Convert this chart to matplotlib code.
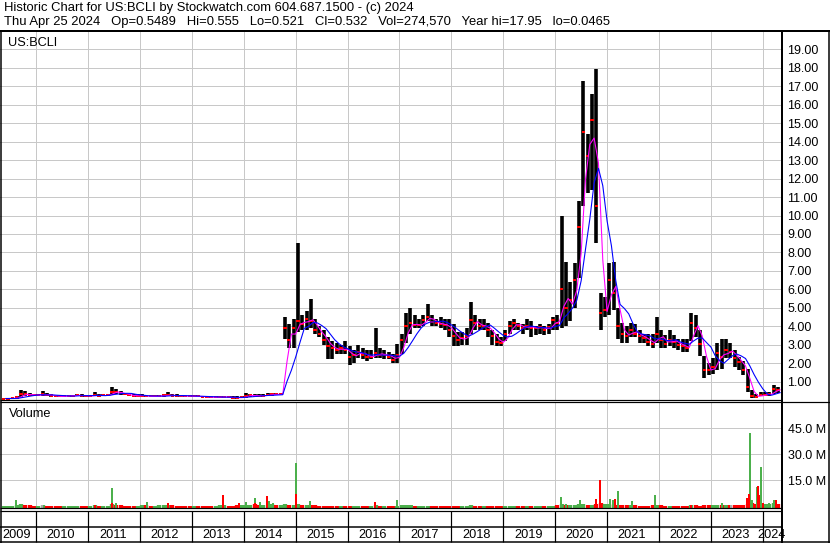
import numpy as np
import pandas as pd
import matplotlib
matplotlib.use("Agg")
import matplotlib.pyplot as plt
from matplotlib.lines import Line2D

plt.rcParams['font.family'] = ['Liberation Sans', 'DejaVu Sans']

# ---------------- data (monthly, May 2009 .. Apr 2024) ----------------
first_month = '2009-05'
last_month = '2024-04'

high = [
    # 2009 May-Dec
    0.10, 0.10, 0.11, 0.20, 0.55, 0.50, 0.38, 0.33,
    # 2010
    0.33, 0.50, 0.36, 0.30, 0.25, 0.24, 0.26, 0.27, 0.28, 0.35, 0.30, 0.27,
    # 2011
    0.28, 0.45, 0.30, 0.30, 0.35, 0.68, 0.60, 0.48, 0.40, 0.34, 0.30, 0.30,
    # 2012
    0.30, 0.28, 0.27, 0.26, 0.28, 0.35, 0.42, 0.32, 0.30, 0.28, 0.27, 0.26,
    # 2013
    0.26, 0.25, 0.24, 0.23, 0.22, 0.22, 0.24, 0.24, 0.22, 0.20, 0.20, 0.24,
    # 2014
    0.36, 0.34, 0.33, 0.30, 0.30, 0.36, 0.40, 0.38, 0.40, 4.50, 4.10, 4.40,
    # 2015
    8.50, 4.60, 4.80, 5.45, 4.40, 4.00, 3.80, 3.40, 3.20, 3.10, 3.00, 3.20,
    # 2016
    2.90, 2.70, 3.00, 2.80, 2.70, 2.70, 3.90, 2.80, 2.70, 2.60, 2.50, 3.05,
    # 2017
    3.60, 4.70, 5.00, 4.60, 4.40, 4.60, 5.20, 4.60, 4.40, 4.50, 4.40, 4.40,
    # 2018
    4.10, 3.70, 3.70, 3.90, 5.30, 4.60, 4.40, 4.40, 4.20, 3.80, 3.60, 3.40,
    # 2019
    3.80, 4.30, 4.40, 4.20, 4.10, 4.40, 4.30, 4.00, 4.10, 4.00, 4.10, 4.50,
    # 2020
    4.60, 10.0, 7.50, 6.40, 7.40, 10.8, 17.3, 14.4, 16.6, 17.95, 5.80, 5.60,
    # 2021
    7.40, 7.50, 5.00, 4.20, 4.00, 4.20, 4.10, 3.80, 3.60, 3.60, 3.60, 4.50,
    # 2022
    3.80, 3.50, 3.80, 3.50, 3.30, 3.30, 3.30, 4.70, 4.60, 3.80, 2.40, 2.00,
    # 2023
    2.30, 3.10, 3.30, 3.30, 3.10, 2.70, 2.35, 2.10, 1.70, 0.55, 0.35, 0.45,
    # 2024 Jan-Apr
    0.45, 0.45, 0.82, 0.70,
]

low = [
    0.06, 0.06, 0.07, 0.08, 0.18, 0.22, 0.22, 0.20,
    0.20, 0.22, 0.20, 0.18, 0.15, 0.15, 0.17, 0.18, 0.19, 0.20, 0.18, 0.18,
    0.17, 0.20, 0.18, 0.20, 0.22, 0.28, 0.30, 0.28, 0.25, 0.20, 0.17, 0.17,
    0.17, 0.16, 0.15, 0.15, 0.17, 0.18, 0.20, 0.19, 0.18, 0.17, 0.16, 0.15,
    0.15, 0.14, 0.14, 0.12, 0.11, 0.11, 0.12, 0.12, 0.10, 0.09, 0.08, 0.09,
    0.12, 0.18, 0.18, 0.17, 0.18, 0.20, 0.24, 0.25, 0.25, 3.30, 2.80, 2.80,
    3.70, 3.80, 3.80, 3.90, 3.60, 3.40, 3.00, 2.20, 2.20, 2.50, 2.50, 2.50,
    1.90, 2.00, 2.30, 2.20, 2.10, 2.20, 2.30, 2.30, 2.20, 2.20, 2.00, 2.00,
    2.50, 3.10, 3.60, 3.90, 3.90, 4.00, 4.30, 4.00, 4.00, 3.90, 3.80, 3.40,
    2.90, 2.90, 3.00, 3.00, 3.60, 3.80, 3.80, 3.80, 3.40, 3.00, 2.90, 2.90,
    3.20, 3.60, 3.80, 3.80, 3.60, 3.80, 3.40, 3.50, 3.60, 3.50, 3.60, 3.80,
    3.80, 3.90, 4.00, 4.30, 5.00, 6.60, 10.5, 11.2, 11.4, 8.50, 3.80, 4.50,
    4.60, 4.90, 3.30, 3.10, 3.10, 3.40, 3.40, 3.10, 3.10, 2.90, 2.80, 3.10,
    2.80, 2.80, 2.90, 2.80, 2.70, 2.60, 2.60, 3.20, 3.40, 2.40, 1.20, 1.35,
    1.40, 1.60, 1.70, 2.30, 2.30, 1.80, 1.60, 1.35, 0.45, 0.09, 0.10, 0.20,
    0.20, 0.22, 0.30, 0.40,
]

close = [
    0.08, 0.08, 0.09, 0.15, 0.32, 0.30, 0.27, 0.26,
    0.27, 0.30, 0.28, 0.24, 0.20, 0.19, 0.22, 0.23, 0.24, 0.26, 0.23, 0.22,
    0.22, 0.28, 0.23, 0.25, 0.28, 0.45, 0.42, 0.36, 0.30, 0.25, 0.22, 0.24,
    0.24, 0.20, 0.19, 0.20, 0.22, 0.25, 0.27, 0.24, 0.23, 0.22, 0.21, 0.20,
    0.20, 0.19, 0.18, 0.16, 0.15, 0.15, 0.16, 0.16, 0.14, 0.13, 0.12, 0.15,
    0.24, 0.25, 0.24, 0.23, 0.24, 0.28, 0.31, 0.30, 0.30, 3.90, 3.25, 3.90,
    4.30, 4.10, 4.40, 4.30, 3.80, 3.60, 3.25, 2.90, 2.80, 2.70, 2.80, 2.70,
    2.35, 2.45, 2.60, 2.45, 2.35, 2.35, 2.55, 2.45, 2.45, 2.35, 2.17, 2.45,
    3.25, 4.00, 4.15, 4.05, 4.05, 4.35, 4.50, 4.25, 4.15, 4.10, 4.05, 3.80,
    3.45, 3.25, 3.35, 3.45, 4.35, 4.15, 4.00, 4.00, 3.80, 3.45, 3.15, 3.10,
    3.60, 4.00, 4.15, 4.00, 3.90, 4.00, 3.90, 3.90, 3.95, 3.80, 3.95, 4.35,
    4.15, 6.00, 5.00, 5.40, 6.50, 9.40, 14.5, 13.2, 15.2, 10.5, 4.70, 4.90,
    6.50, 5.80, 4.00, 3.60, 3.45, 3.80, 3.60, 3.45, 3.35, 3.15, 3.05, 3.60,
    3.25, 3.05, 3.25, 3.15, 3.00, 2.90, 2.80, 4.15, 3.90, 3.05, 1.65, 1.60,
    1.80, 2.55, 2.35, 2.70, 2.60, 2.25, 2.05, 1.65, 0.70, 0.22, 0.18, 0.28,
    0.28, 0.33, 0.57, 0.53,
]

# typical weekly volume per month (millions of shares)
vol_base = [
    0.3, 0.3, 0.4, 0.8, 1.2, 0.8, 0.6, 0.4,
    0.4, 0.8, 0.4, 0.3, 0.3, 0.3, 0.3, 0.3, 0.3, 0.4, 0.3, 0.3,
    0.3, 0.6, 0.3, 0.3, 0.4, 1.5, 0.8, 0.5, 0.4, 0.3, 0.3, 0.3,
    0.5, 0.6, 0.4, 0.4, 0.5, 0.6, 0.9, 0.5, 0.4, 0.4, 0.4, 0.3,
    0.3, 0.3, 0.3, 0.3, 0.3, 0.4, 0.6, 0.8, 0.4, 0.4, 0.5, 0.6,
    1.0, 1.0, 1.2, 0.8, 0.8, 1.0, 1.2, 1.0, 0.8, 1.5, 0.8, 0.8,
    1.5, 0.8, 0.7, 1.0, 0.5, 0.4, 0.4, 0.4, 0.4, 0.3, 0.3, 0.3,
    0.4, 0.3, 0.3, 0.3, 0.3, 0.4, 0.5, 0.3, 0.3, 0.3, 0.3, 0.4,
    0.6, 0.7, 0.5, 0.4, 0.3, 0.3, 0.4, 0.3, 0.3, 0.3, 0.3, 0.3,
    0.4, 0.3, 0.3, 0.3, 0.5, 0.3, 0.3, 0.3, 0.3, 0.3, 0.3, 0.3,
    0.3, 0.3, 0.3, 0.3, 0.3, 0.3, 0.4, 0.3, 0.3, 0.3, 0.3, 0.3,
    0.5, 1.5, 1.0, 0.8, 1.0, 1.2, 1.5, 1.0, 1.0, 1.5, 2.0, 1.2,
    1.5, 1.0, 0.8, 0.6, 0.5, 0.5, 0.5, 0.4, 0.4, 0.4, 0.5, 0.6,
    0.5, 0.4, 0.4, 0.4, 0.3, 0.3, 0.3, 0.6, 0.5, 0.4, 0.6, 0.5,
    0.5, 0.6, 0.8, 0.6, 0.5, 0.5, 0.5, 0.5, 1.5, 2.0, 1.5, 1.5,
    1.5, 1.5, 2.0, 1.5,
]

# individual high-volume weeks: date (decimal year), volume (M), direction
spike_dates = [2009.62, 2010.12, 2011.47, 2011.47, 2011.53, 2011.13, 2012.13, 2012.53,
               2013.59, 2013.91, 2014.04, 2014.22, 2014.22, 2014.31, 2014.44, 2014.48,
               2014.57, 2015.01, 2015.01, 2015.28, 2016.53, 2016.95, 2017.24,
               2020.12, 2020.21, 2020.48, 2020.79, 2020.87, 2021.06, 2021.11, 2021.15,
               2021.21, 2021.48, 2021.93, 2022.61, 2023.21, 2023.38, 2023.75, 2023.70,
               2023.73, 2023.79, 2023.89, 2023.91, 2023.94, 2023.97, 2024.01, 2024.11,
               2024.21, 2024.25]
spike_vols = [3.6, 0.8, 10.3, 2.0, 1.7, 0.8, 2.6, 1.7,
              6.5, 2.1, 2.6, 4.9, 2.0, 2.6, 6.0, 3.2,
              2.1, 24.7, 7.0, 3.0, 2.6, 3.6, 0.8,
              5.1, 1.3, 3.6, 4.2, 15.2, 4.2, 3.6, 4.2,
              9.0, 3.0, 6.5, 0.7, 1.7, 0.6, 42.1, 4.6,
              7.0, 3.6, 10.9, 11.8, 6.5, 22.8, 2.0, 1.8,
              3.6, 3.6]
spike_dirs = ['up', 'flat', 'up', 'down', 'up', 'down', 'up', 'down',
              'down', 'down', 'up', 'up', 'down', 'up', 'down', 'up',
              'up', 'up', 'down', 'up', 'down', 'up', 'up',
              'up', 'up', 'up', 'down', 'down', 'up', 'up', 'down',
              'up', 'up', 'up', 'down', 'up', 'flat', 'up', 'down',
              'down', 'up', 'up', 'down', 'down', 'up', 'down', 'up',
              'up', 'down']

year_labels = list(range(2009, 2025))
price_ticks = list(range(1, 20))
vol_ticks = [15, 30, 45]

header1 = "Historic Chart for US:BCLI by Stockwatch.com 604.687.1500 - (c) 2024"
header2 = ("Thu Apr 25 2024   Op=0.5489   Hi=0.555   Lo=0.521   Cl=0.532   "
           "Vol=274,570   Year hi=17.95   lo=0.0465")

# ---------------- derived ----------------
months = pd.period_range(first_month, last_month, freq='M')
t = np.asarray(months.year + (months.month - 0.5) / 12.0, dtype=float)
t_end = np.asarray(months.year + months.month / 12.0, dtype=float)
close_s = pd.Series(close)
ma_fast = close_s.rolling(2, min_periods=1).mean()
ma_slow = close_s.rolling(5, min_periods=1).mean()
chg = close_s.diff().fillna(0.0)

GREEN = '#4cb04c'
RED = '#ff0000'
GRAY = '#a8a8a8'
GRID = '#c8c8c8'
dir_color = {'up': GREEN, 'down': RED, 'flat': GRAY}

# ---------------- layout helpers (pixel coordinates) ----------------
W, H = 830, 543
fig = plt.figure(figsize=(W / 100, H / 100), dpi=100)
fig.patch.set_facecolor('white')
PX = 0.72  # points per pixel


def rect(x0, y0, x1, y1):
    return [x0 / W, 1 - y1 / H, (x1 - x0) / W, (y1 - y0) / H]


def hline(y, x0, x1, lw=1.0):
    fig.add_artist(Line2D([x0 / W, x1 / W], [1 - y / H, 1 - y / H], color='black',
                          lw=lw * PX, transform=fig.transFigure, solid_capstyle='butt'))


def vline(x, y0, y1, lw=1.0):
    fig.add_artist(Line2D([x / W, x / W], [1 - y0 / H, 1 - y1 / H], color='black',
                          lw=lw * PX, transform=fig.transFigure, solid_capstyle='butt'))


X_RIGHT = 782
XL = (2009.3025, 2024.370)
MONTH = 1.0 / 12.0

# ---------------- price panel ----------------
axp = fig.add_axes(rect(0, 31, X_RIGHT, 400))
axp.set_xlim(*XL)
axp.set_ylim(0, 20)
axp.set_yticks(price_ticks)
axp.set_yticklabels([f"{v:.2f}" for v in price_ticks])
axp.set_yticks([20], minor=True)
axp.set_xticks(range(2010, 2025))
axp.set_xticklabels([])
axp.grid(True, which='both', color=GRID, lw=1.0 * PX)
axp.set_axisbelow(True)
axp.yaxis.tick_right()
axp.tick_params(axis='y', which='both', length=0, pad=4, labelsize=9, colors='black')
axp.tick_params(axis='x', length=0)
for s in axp.spines.values():
    s.set_visible(False)

axp.vlines(t, low, high, color='black', lw=3.6 * PX, zorder=2)
axp.hlines(close, t - 0.4 * MONTH, t + 0.4 * MONTH, color=RED, lw=2.0 * PX, zorder=3)
axp.plot(t_end, ma_fast, color='#ff00ff', lw=1.1 * PX, zorder=4)
axp.plot(t_end, ma_slow, color='#0000ff', lw=1.1 * PX, zorder=5)
axp.text(8 / X_RIGHT, 1 - 12 / 369, "US:BCLI", transform=axp.transAxes,
         fontsize=9.2, va='center', ha='left')

# ---------------- volume panel ----------------
axv = fig.add_axes(rect(0, 402.3, X_RIGHT, 508.3))
axv.set_xlim(*XL)
axv.set_ylim(-1.15, 60)
axv.set_yticks(vol_ticks)
axv.set_yticklabels([f"{v:.1f} M" for v in vol_ticks])
axv.set_xticks(range(2010, 2025))
axv.set_xticklabels([])
axv.grid(True, color=GRID, lw=1.0 * PX)
axv.set_axisbelow(True)
axv.yaxis.tick_right()
axv.tick_params(axis='y', length=0, pad=4, labelsize=9, colors='black')
axv.tick_params(axis='x', length=0)
for s in axv.spines.values():
    s.set_visible(False)

base_colors = [GREEN if c >= 0 else RED for c in chg]
axv.vlines(t, -1.15, vol_base, colors=base_colors, lw=4.3 * PX, zorder=2)
axv.vlines(spike_dates, -1.15, spike_vols, colors=[dir_color[d] for d in spike_dirs],
           lw=2.0 * PX, zorder=3)
axv.text(9 / X_RIGHT, 1 - 12 / 106, "Volume", transform=axv.transAxes,
         fontsize=9.2, va='center', ha='left')

# ---------------- year label band ----------------
axl = fig.add_axes(rect(0, 510.7, X_RIGHT, 541.7))
axl.set_xlim(*XL)
axl.set_ylim(0, 1)
axl.axis('off')
for yr in year_labels:
    a = max(yr, XL[0])
    b = min(yr + 1, XL[1])
    axl.text((a + b) / 2 - 0.02, 0.2, str(yr), fontsize=9.2, ha='center', va='center')

# ---------------- frame lines ----------------
hline(31, 0, W, lw=2)
vline(0.5, 31, H, lw=1.5)
vline(782, 31, 542.5, lw=2)
vline(828.5, 31, 542.5, lw=1.5)
hline(400, 0, X_RIGHT, lw=1.2)
hline(402.3, 0, W, lw=1.2)
hline(508.3, 0, X_RIGHT, lw=1.2)
hline(510.7, 0, X_RIGHT, lw=1.2)
hline(526.7, 0, X_RIGHT, lw=1.5)
hline(541.7, 0, W, lw=1.5)
for yr in range(2010, 2025):
    xp = (yr - XL[0]) / (XL[1] - XL[0]) * X_RIGHT
    vline(xp, 510.7, 541.7, lw=1.2)

# ---------------- header ----------------
fig.text(4 / W, 1 - 7.5 / H, header1, fontsize=9.35, va='center', ha='left')
fig.text(4 / W, 1 - 22.5 / H, header2, fontsize=9.35, va='center', ha='left')

fig.savefig('out.png', dpi=100, facecolor='white')
